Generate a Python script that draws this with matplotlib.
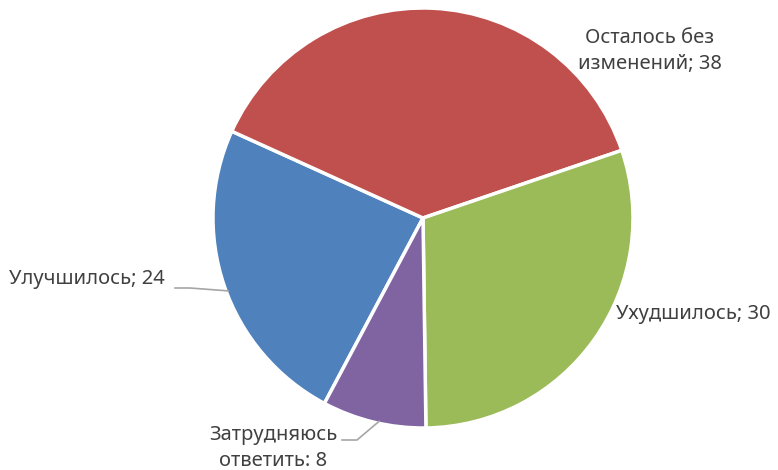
import matplotlib.pyplot as plt
import numpy as np

plt.rcParams['font.family'] = ['Noto Sans', 'DejaVu Sans']

labels = ['Улучшилось; 24', 'Осталось без\nизменений; 38', 'Ухудшилось; 30', 'Затрудняюсь\nответить: 8']
values = [24, 38, 30, 8]
colors = ['#4F81BD', '#C0504D', '#9BBB59', '#8064A2']

W, H = 778, 470
fig = plt.figure(figsize=(W / 100, H / 100), dpi=100)
ax = fig.add_axes([0, 0, 1, 1])

cx, cy, r = 423, H - 218, 210
start = 242
wedges, _ = ax.pie(values, colors=colors, startangle=start, counterclock=False,
                   center=(cx, cy), radius=r,
                   wedgeprops=dict(edgecolor='white', linewidth=2.5))
ax.set_aspect('auto')
ax.set_xlim(0, W)
ax.set_ylim(0, H)
ax.axis('off')

txt = dict(color='#404040', fontsize=14.5, linespacing=1.42)
# label anchor points (pixels from top-left)
ax.text(9, H - 279, labels[0], ha='left', va='center', **txt)
ax.text(650, H - 51, labels[1], ha='center', va='center', **txt)
ax.text(616, H - 314, labels[2], ha='left', va='center', **txt)
ax.text(273, H - 448, labels[3], ha='center', va='center', **txt)

# leader lines for the two labels that sit off the slice edge
def edge_point(i, frac=0.5, rr=1.0):
    before = sum(values[:i])
    ang = np.deg2rad(start - 360 * (before + values[i] * frac) / sum(values))
    return cx + r * rr * np.cos(ang), cy + r * rr * np.sin(ang)

px, py = edge_point(0, 0.48, 0.99)
ax.plot([175, 190, px], [H - 288, H - 288, py], color='#A6A6A6', lw=1.2)
px, py = edge_point(3, 0.45, 0.99)
ax.plot([342, 357, px], [H - 440, H - 440, py], color='#A6A6A6', lw=1.2)

fig.savefig('out.png', dpi=100)
